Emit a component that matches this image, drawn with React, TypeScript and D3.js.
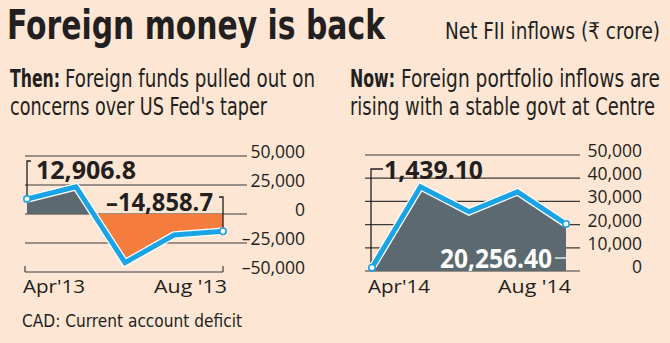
import React from "react";
import * as d3 from "d3";

const thenMonths = ["Apr'13", "May'13", "Jun'13", "Jul'13", "Aug '13"];
const thenValues = [12906.8, 23500, -42000, -18100, -14858.7];
const thenTicks = [50000, 25000, 0, -25000, -50000];

const nowMonths = ["Apr'14", "May'14", "Jun'14", "Jul'14", "Aug '14"];
const nowValues = [1439.1, 36300, 25500, 34100, 20256.4];
const nowTicks = [50000, 40000, 30000, 20000, 10000, 0];

const BG = "#fde6d4";
const INK = "#231f20";
const GREY = "#5d6971";
const ORANGE = "#f47d3e";
const BLUE = "#1aa4e6";
const COND = "'Liberation Sans Narrow', 'DejaVu Sans Condensed', 'Roboto Condensed', 'Open Sans', sans-serif";
const SANS = "'Open Sans', 'Noto Sans', sans-serif";

const fmt = (v: number) => d3.format(",")(v).replace("−", "–").replace("-", "–");
const fmtLabel = (v: number, digits: number) =>
  d3.format(`,.${digits}f`)(v).replace("−", "–").replace("-", "–");

export default function App() {
  // Left chart scales
  const xL = d3.scalePoint<string>().domain(thenMonths).range([27, 223]).padding(0);
  const yL = d3.scaleLinear().domain([-50000, 50000]).range([272, 156]);
  // Right chart scales
  const xR = d3.scalePoint<string>().domain(nowMonths).range([372, 566]).padding(0);
  const yR = d3.scaleLinear().domain([0, 50000]).range([271, 155]);

  const thenData = thenMonths.map((m, i) => ({ m, v: thenValues[i] }));
  const nowData = nowMonths.map((m, i) => ({ m, v: nowValues[i] }));

  const areaL = d3.area<{ m: string; v: number }>()
    .x((d) => xL(d.m)!)
    .y0(yL(0))
    .y1((d) => yL(d.v));
  const lineL = d3.line<{ m: string; v: number }>()
    .x((d) => xL(d.m)!)
    .y((d) => yL(d.v));
  const areaR = d3.area<{ m: string; v: number }>()
    .x((d) => xR(d.m)!)
    .y0(yR(0))
    .y1((d) => yR(d.v));
  const lineR = d3.line<{ m: string; v: number }>()
    .x((d) => xR(d.m)!)
    .y((d) => yR(d.v));

  const lFirst = thenData[0];
  const lLast = thenData[thenData.length - 1];
  const rFirst = nowData[0];
  const rLast = nowData[nowData.length - 1];

  return (
    <svg
      width={670}
      height={343}
      style={{ position: "absolute", left: 0, top: 0, display: "block" }}
    >
      <defs>
        <clipPath id="above">
          <rect x={0} y={0} width={335} height={yL(0)} />
        </clipPath>
        <clipPath id="below">
          <rect x={0} y={yL(0)} width={335} height={343 - yL(0)} />
        </clipPath>
      </defs>
      <rect x={0} y={0} width={670} height={343} fill={BG} />

      {/* Titles */}
      <text x={7} y={39} fontFamily={COND} fontWeight={700} fontSize={40} fill={INK}
        textLength={378} lengthAdjust="spacingAndGlyphs">Foreign money is back</text>
      <text x={445} y={39} fontFamily={COND} fontSize={23} fill={INK}
        textLength={215} lengthAdjust="spacingAndGlyphs">Net FII inflows (₹ crore)</text>

      <text x={10} y={87} fontFamily={COND} fontWeight={700} fontSize={25} fill={INK}
        textLength={50} lengthAdjust="spacingAndGlyphs">Then:</text>
      <text x={65} y={87} fontFamily={COND} fontSize={25} fill={INK}
        textLength={250} lengthAdjust="spacingAndGlyphs">Foreign funds pulled out on</text>
      <text x={10} y={115} fontFamily={COND} fontSize={25} fill={INK}
        textLength={257} lengthAdjust="spacingAndGlyphs">concerns over US  Fed's taper</text>

      <text x={350} y={87} fontFamily={COND} fontWeight={700} fontSize={25} fill={INK}
        textLength={45} lengthAdjust="spacingAndGlyphs">Now:</text>
      <text x={401} y={87} fontFamily={COND} fontSize={25} fill={INK}
        textLength={259} lengthAdjust="spacingAndGlyphs">Foreign portfolio inflows are</text>
      <text x={350} y={115} fontFamily={COND} fontSize={25} fill={INK}
        textLength={305} lengthAdjust="spacingAndGlyphs">rising with a stable govt at Centre</text>

      {/* LEFT CHART */}
      {thenTicks.slice(0, thenTicks.length - 1).map((t) => (
        <line key={"gl" + t} x1={25} x2={247} y1={yL(t)} y2={yL(t)} stroke="#3a3a3a" strokeWidth={1.2} />
      ))}
      {/* x axis */}
      <line x1={xL(thenMonths[0])! - 2} x2={xL(thenMonths[4])!} y1={yL(-50000)} y2={yL(-50000)} stroke="#3a3a3a" strokeWidth={1.2} />
      <line x1={xL(thenMonths[0])! - 2} x2={xL(thenMonths[0])! - 2} y1={yL(-50000) - 6} y2={yL(-50000)} stroke="#3a3a3a" strokeWidth={1.2} />
      <line x1={xL(thenMonths[4])!} x2={xL(thenMonths[4])!} y1={yL(-50000) - 6} y2={yL(-50000)} stroke="#3a3a3a" strokeWidth={1.2} />
      {thenTicks.map((t) => (
        <text key={"tl" + t} x={305} y={yL(t) + 2} textAnchor="end" fontFamily={SANS} fontSize={17.5} fill={INK}>
          {fmt(t)}
        </text>
      ))}

      <path d={areaL(thenData)!} fill={GREY} clipPath="url(#above)" />
      <path d={areaL(thenData)!} fill={ORANGE} clipPath="url(#below)" />

      {/* brackets */}
      <path d={`M${xL(lFirst.m)! + 4},161 H${xL(lFirst.m)!} V${yL(lFirst.v)}`} fill="none" stroke={INK} strokeWidth={1.3} />
      <path d={`M${xL(lLast.m)! - 4},197 H${xL(lLast.m)!} V${yL(lLast.v)}`} fill="none" stroke={INK} strokeWidth={1.3} />

      <path d={lineL(thenData)!} fill="none" stroke="#ffffff" strokeWidth={7.5} strokeLinejoin="miter" />
      <path d={lineL(thenData)!} fill="none" stroke={BLUE} strokeWidth={5} strokeLinejoin="miter" />
      {[lFirst, lLast].map((d, i) => (
        <circle key={"lm" + i} cx={xL(d.m)!} cy={yL(d.v)} r={3.2} fill="#ffffff" stroke={BLUE} strokeWidth={1.6} />
      ))}

      <text x={36} y={179} fontFamily={SANS} fontWeight={700} fontSize={25} fill={INK}
        textLength={100} lengthAdjust="spacingAndGlyphs">{fmtLabel(lFirst.v, 1)}</text>
      <text x={106} y={210.5} fontFamily={SANS} fontWeight={700} fontSize={25} fill={INK}
        textLength={107} lengthAdjust="spacingAndGlyphs">{fmtLabel(lLast.v, 1)}</text>

      <text x={23} y={293} fontFamily={SANS} fontSize={18.5} fill={INK}
        textLength={62} lengthAdjust="spacingAndGlyphs">{thenMonths[0]}</text>
      <text x={227} y={293} textAnchor="end" fontFamily={SANS} fontSize={18.5} fill={INK}
        textLength={73} lengthAdjust="spacingAndGlyphs">{thenMonths[4]}</text>

      {/* RIGHT CHART */}
      {nowTicks.map((t) => (
        <line key={"gr" + t} x1={365} x2={580} y1={yR(t)} y2={yR(t)} stroke="#3a3a3a" strokeWidth={1.2} />
      ))}
      {nowTicks.map((t) => (
        <text key={"tr" + t} x={642} y={yR(t) + 2} textAnchor="end" fontFamily={SANS} fontSize={17.5} fill={INK}>
          {fmt(t)}
        </text>
      ))}

      <path d={areaR(nowData)!} fill={GREY} />

      <path d={`M${xR(rFirst.m)! + 11},169 H${xR(rFirst.m)! - 1} V${yR(rFirst.v)}`} fill="none" stroke={INK} strokeWidth={1.3} />

      <path d={lineR(nowData)!} fill="none" stroke="#ffffff" strokeWidth={7.5} strokeLinejoin="miter" />
      <path d={lineR(nowData)!} fill="none" stroke={BLUE} strokeWidth={5} strokeLinejoin="miter" />
      {[rFirst, rLast].map((d, i) => (
        <circle key={"rm" + i} cx={xR(d.m)!} cy={yR(d.v)} r={3.2} fill="#ffffff" stroke={BLUE} strokeWidth={1.6} />
      ))}

      <text x={384} y={178.5} fontFamily={SANS} fontWeight={700} fontSize={25} fill={INK}
        textLength={99} lengthAdjust="spacingAndGlyphs">{fmtLabel(rFirst.v, 2)}</text>
      <text x={440} y={268} fontFamily={SANS} fontWeight={700} fontSize={26} fill="#ffffff"
        textLength={112} lengthAdjust="spacingAndGlyphs">{fmtLabel(rLast.v, 2)}</text>
      <line x1={555} x2={xR(rLast.m)!} y1={258} y2={258} stroke="#ffffff" strokeWidth={1.3} />

      <text x={368} y={293} fontFamily={SANS} fontSize={18.5} fill={INK}
        textLength={62} lengthAdjust="spacingAndGlyphs">{nowMonths[0]}</text>
      <text x={571} y={293} textAnchor="end" fontFamily={SANS} fontSize={18.5} fill={INK}
        textLength={73} lengthAdjust="spacingAndGlyphs">{nowMonths[4]}</text>

      <text x={22} y={326.5} fontFamily={COND} fontSize={18} fill={INK}
        textLength={220} lengthAdjust="spacingAndGlyphs">CAD: Current account deficit</text>
    </svg>
  );
}
